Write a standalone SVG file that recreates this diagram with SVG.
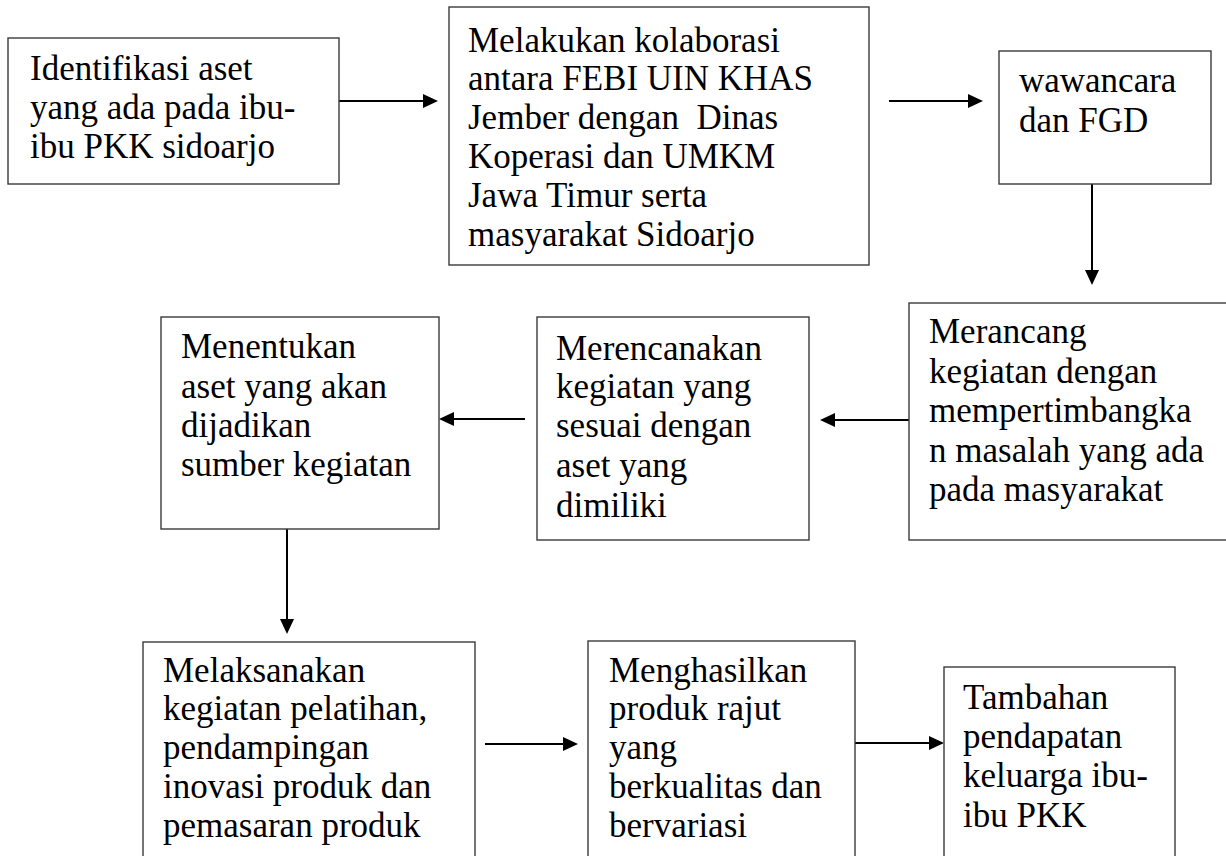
<svg xmlns="http://www.w3.org/2000/svg" width="1226" height="856" viewBox="0 0 1226 856">
<defs>
<style>
.box{fill:#fff;stroke:#3a3a3a;stroke-width:1.4}
.t{font-family:"Liberation Serif","Times New Roman",serif;font-size:35px;fill:#000}
.c{stroke:#000;stroke-width:2;fill:none;marker-end:url(#ah)}
</style>
<marker id="ah" markerUnits="userSpaceOnUse" markerWidth="16" markerHeight="16" refX="5" refY="7" orient="auto" viewBox="0 0 16 14">
<path d="M0,0 L15,7 L0,14 z" fill="#000"/>
</marker>
</defs>
<rect width="1226" height="856" fill="#fff"/>
<g id="connectors">
<line class="c" x1="339" y1="101" x2="428" y2="101"/>
<line class="c" x1="889" y1="101" x2="973" y2="101"/>
<line class="c" x1="1092" y1="184" x2="1092" y2="275"/>
<line class="c" x1="909" y1="420" x2="830" y2="420"/>
<line class="c" x1="525" y1="419" x2="449" y2="419"/>
<line class="c" x1="287" y1="529" x2="287" y2="624"/>
<line class="c" x1="485" y1="744" x2="568" y2="744"/>
<line class="c" x1="855" y1="743" x2="934" y2="743"/>
</g>
<g id="n1">
<rect class="box" x="8" y="38" width="331" height="146"/>
<text class="t" x="30" y="80">Identifikasi aset</text>
<text class="t" x="30" y="119">yang ada pada ibu-</text>
<text class="t" x="30" y="158">ibu PKK sidoarjo</text>
</g>
<g id="n2">
<rect class="box" x="449" y="7" width="420" height="258"/>
<text class="t" x="468" y="52">Melakukan kolaborasi</text>
<text class="t" x="468" y="90">antara FEBI UIN KHAS</text>
<text class="t" x="468" y="129" xml:space="preserve">Jember dengan  Dinas</text>
<text class="t" x="468" y="168">Koperasi dan UMKM</text>
<text class="t" x="468" y="207">Jawa Timur serta</text>
<text class="t" x="468" y="246">masyarakat Sidoarjo</text>
</g>
<g id="n3">
<rect class="box" x="999" y="51" width="212" height="133"/>
<text class="t" x="1019" y="92">wawancara</text>
<text class="t" x="1019" y="132">dan FGD</text>
</g>
<g id="n4">
<rect class="box" x="909" y="303" width="340" height="237"/>
<text class="t" x="929" y="343">Merancang</text>
<text class="t" x="929" y="383">kegiatan dengan</text>
<text class="t" x="929" y="422">mempertimbangka</text>
<text class="t" x="929" y="462">n masalah yang ada</text>
<text class="t" x="929" y="501">pada masyarakat</text>
</g>
<g id="n5">
<rect class="box" x="537" y="317" width="272" height="223"/>
<text class="t" x="556" y="360">Merencanakan</text>
<text class="t" x="556" y="398">kegiatan yang</text>
<text class="t" x="556" y="437">sesuai dengan</text>
<text class="t" x="556" y="477">aset yang</text>
<text class="t" x="556" y="517">dimiliki</text>
</g>
<g id="n6">
<rect class="box" x="161" y="317" width="278" height="212"/>
<text class="t" x="181" y="358">Menentukan</text>
<text class="t" x="181" y="398">aset yang akan</text>
<text class="t" x="181" y="437">dijadikan</text>
<text class="t" x="181" y="476">sumber kegiatan</text>
</g>
<g id="n7">
<rect class="box" x="143" y="642" width="332" height="240"/>
<text class="t" x="163" y="682">Melaksanakan</text>
<text class="t" x="163" y="720">kegiatan pelatihan,</text>
<text class="t" x="163" y="759">pendampingan</text>
<text class="t" x="163" y="798">inovasi produk dan</text>
<text class="t" x="163" y="837">pemasaran produk</text>
</g>
<g id="n8">
<rect class="box" x="588" y="641" width="267" height="240"/>
<text class="t" x="609" y="682">Menghasilkan</text>
<text class="t" x="609" y="720">produk rajut</text>
<text class="t" x="609" y="759">yang</text>
<text class="t" x="609" y="798">berkualitas dan</text>
<text class="t" x="609" y="837">bervariasi</text>
</g>
<g id="n9">
<rect class="box" x="944" y="667" width="231" height="215"/>
<text class="t" x="963" y="709">Tambahan</text>
<text class="t" x="963" y="748">pendapatan</text>
<text class="t" x="963" y="787">keluarga ibu-</text>
<text class="t" x="963" y="827">ibu PKK</text>
</g>
</svg>
